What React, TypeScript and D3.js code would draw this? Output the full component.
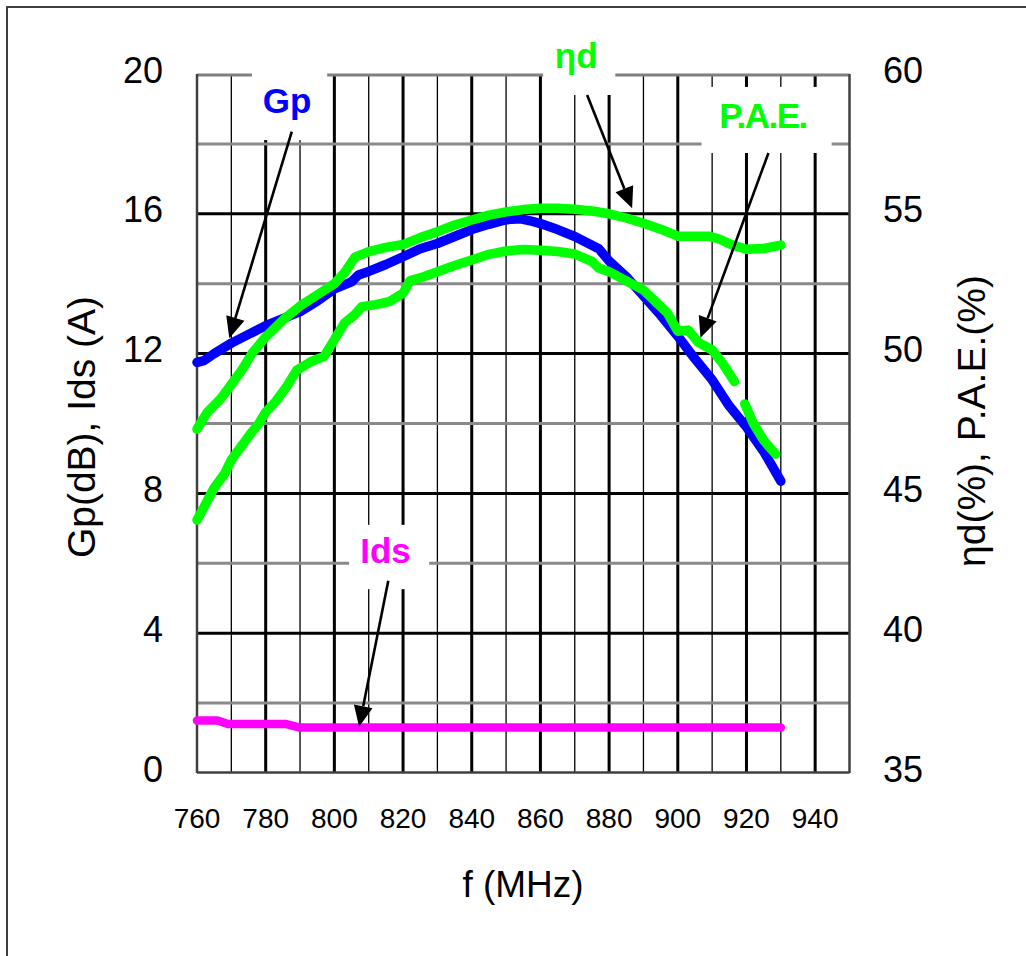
import React from "react";
import * as d3 from "d3";

// ---- data ----
const xTicks = [760, 780, 800, 820, 840, 860, 880, 900, 920, 940];
const yLeftTicks = [0, 4, 8, 12, 16, 20];
const yRightTicks = [35, 40, 45, 50, 55, 60];

const gpFreq = [760, 762, 765, 770, 775, 780, 785, 790, 795, 800, 805, 807, 810, 815, 820, 825, 830, 835, 840, 845, 850, 854, 857, 860, 865, 870, 875, 877, 880, 885, 890, 895, 900, 905, 910, 915, 920, 925, 930];
const gpVals = [11.75, 11.8, 12.0, 12.3, 12.55, 12.8, 13.0, 13.2, 13.5, 13.85, 14.05, 14.25, 14.35, 14.55, 14.77, 15.0, 15.15, 15.35, 15.55, 15.7, 15.83, 15.86, 15.8, 15.72, 15.55, 15.35, 15.1, 15.0, 14.65, 14.2, 13.65, 13.1, 12.5, 11.85, 11.25, 10.5, 9.9, 9.2, 8.35];

const etaFreq = [760, 763, 767, 770, 773, 776, 780, 785, 790, 795, 800, 803, 806, 810, 815, 820, 825, 830, 835, 840, 845, 850, 855, 860, 865, 870, 875, 880, 885, 890, 895, 900, 905, 909, 912, 916, 920, 925, 930];
const etaVals = [47.3, 47.9, 48.4, 48.9, 49.4, 50.0, 50.6, 51.2, 51.7, 52.1, 52.5, 52.9, 53.45, 53.65, 53.8, 53.9, 54.15, 54.36, 54.6, 54.78, 54.95, 55.07, 55.15, 55.2, 55.2, 55.16, 55.1, 55.0, 54.85, 54.66, 54.45, 54.2, 54.2, 54.2, 54.1, 53.88, 53.73, 53.76, 53.88];

const paeFreq = [760, 762, 765, 768, 770, 773, 776, 778, 780, 783, 786, 789, 793, 797, 800, 803, 806, 808, 812, 816, 820, 822, 826, 830, 835, 840, 845, 850, 855, 860, 865, 870, 875, 877, 880, 885, 890, 894, 897, 900, 903, 906, 910, 913, 916.5, 918, 919.5, 922, 925, 928.5];
const paeVals = [44.05, 44.5, 45.2, 45.7, 46.2, 46.7, 47.2, 47.5, 47.9, 48.3, 48.8, 49.4, 49.7, 49.9, 50.5, 51.1, 51.4, 51.68, 51.75, 51.86, 52.16, 52.6, 52.75, 52.93, 53.15, 53.35, 53.55, 53.67, 53.72, 53.7, 53.65, 53.56, 53.3, 53.06, 52.93, 52.6, 52.27, 51.8, 51.45, 50.8, 50.84, 50.4, 50.13, 49.66, 49.0, NaN, 48.2, 47.5, 46.9, 46.4];

const idsFreq = [760, 766, 769, 786, 790, 930];
const idsVals = [1.5, 1.5, 1.4, 1.4, 1.3, 1.3];

// annotations in data units (freq, left-axis value)
const labelNames = ["Gp", "ηd", "P.A.E.", "Ids"];
const labelColors = ["#0000ff", "#00ff00", "#00ff00", "#ff00ff"];
const labelTextPos = [[786.2, 18.88], [870.4, 20.16], [924.8, 18.45], [814.9, 6.02]];
const labelBoxes = [[776.0, 797.9, 20.4, 18.11], [860.8, 881.8, 21.26, 19.4], [906.9, 944.8, 19.63, 17.74], [804.3, 827.6, 7.1, 5.26]];
const arrowFrom = [[787.6, 18.35], [873.6, 19.4], [926.4, 17.74], [815.7, 5.5]];
const arrowTo = [[769.4, 12.44], [886.7, 16.16], [906.6, 12.45], [807.2, 1.32]];

const FONT = "'Liberation Sans', Arial, Helvetica, sans-serif";

export default function App() {
  const x = d3.scaleLinear().domain([760, 950]).range([197, 849.5]);
  const yL = d3.scaleLinear().domain([0, 20]).range([773, 74]);
  const yR = d3.scaleLinear().domain([35, 60]).range([773, 74]);

  type P = [number, number];
  const mk = (fs: number[], vs: number[]): P[] => fs.map((f, i) => [f, vs[i]]);

  const lineL = d3.line<P>().defined((d) => !isNaN(d[1])).x((d) => x(d[0])).y((d) => yL(d[1]));
  const lineR = d3.line<P>().defined((d) => !isNaN(d[1])).x((d) => x(d[0])).y((d) => yR(d[1]));

  const vGrid = d3.range(770, 950, 10);
  const hGrid = d3.range(2, 20, 2);

  const arrow = (i: number) => {
    const x1 = x(arrowFrom[i][0]), y1 = yL(arrowFrom[i][1]);
    const x2 = x(arrowTo[i][0]), y2 = yL(arrowTo[i][1]);
    const ang = Math.atan2(y2 - y1, x2 - x1);
    const len = 21, half = 9.5;
    const bx = x2 - len * Math.cos(ang), by = y2 - len * Math.sin(ang);
    const px = -Math.sin(ang), py = Math.cos(ang);
    const pts = `${x2},${y2} ${bx + half * px},${by + half * py} ${bx - half * px},${by - half * py}`;
    return (
      <g key={"a" + i}>
        <line x1={x1} y1={y1} x2={bx} y2={by} stroke="#000" strokeWidth={2.6} />
        <polygon points={pts} fill="#000" />
      </g>
    );
  };

  return (
    <svg width={1026} height={956} style={{ position: "absolute", left: 0, top: 0, background: "#fff" }} fontFamily={FONT}>
      <rect x={0} y={0} width={1026} height={956} fill="#fff" />
      <rect x={7} y={7} width={1040} height={980} fill="none" stroke="#404040" strokeWidth={2} />

      {/* grid */}
      {vGrid.map((f) => (
        <line key={"v" + f} x1={x(f)} x2={x(f)} y1={74} y2={773}
          stroke="#000" strokeWidth={f % 20 === 0 ? 3 : 1.3} />
      ))}
      {hGrid.map((v) => (
        <line key={"h" + v} x1={197} x2={849.5} y1={yL(v)} y2={yL(v)}
          stroke={v % 4 === 0 ? "#000" : "#8a8a8a"} strokeWidth={3} />
      ))}
      {/* plot border */}
      <line x1={197} x2={849.5} y1={75} y2={75} stroke="#808080" strokeWidth={3} />
      <line x1={197} x2={849.5} y1={772.5} y2={772.5} stroke="#404040" strokeWidth={2.5} />
      <line x1={197} x2={197} y1={74} y2={773} stroke="#404040" strokeWidth={2.5} />
      <line x1={849.5} x2={849.5} y1={74} y2={773} stroke="#404040" strokeWidth={2.5} />

      {/* label boxes */}
      {labelBoxes.map((b, i) => (
        <rect key={"b" + i} x={x(b[0])} y={yL(b[2])} width={x(b[1]) - x(b[0])} height={yL(b[3]) - yL(b[2])} fill="#fff" />
      ))}

      {/* series */}
      <path d={lineL(mk(idsFreq, idsVals)) || ""} fill="none" stroke="#ff00ff" strokeWidth={8.5} strokeLinecap="round" strokeLinejoin="round" />
      <path d={lineL(mk(gpFreq, gpVals)) || ""} fill="none" stroke="#0000ff" strokeWidth={9.5} strokeLinecap="round" strokeLinejoin="round" />
      <path d={lineR(mk(paeFreq, paeVals)) || ""} fill="none" stroke="#00ff00" strokeWidth={9.5} strokeLinecap="round" strokeLinejoin="round" />
      <path d={lineR(mk(etaFreq, etaVals)) || ""} fill="none" stroke="#00ff00" strokeWidth={9.5} strokeLinecap="round" strokeLinejoin="round" />

      {/* labels & arrows */}
      {labelNames.map((n, i) => (
        <text key={"t" + i} x={x(labelTextPos[i][0])} y={yL(labelTextPos[i][1])} textAnchor="middle"
          fontSize={35} fontWeight="bold" fill={labelColors[i]} letterSpacing={i === 2 ? -1.5 : 0}>{n}</text>
      ))}
      {labelNames.map((_, i) => arrow(i))}

      {/* tick labels */}
      {yLeftTicks.map((t) => (
        <text key={"yl" + t} x={163} y={yL(t) + 8.5} textAnchor="end" fontSize={36} fill="#000">{t}</text>
      ))}
      {yRightTicks.map((t) => (
        <text key={"yr" + t} x={883} y={yR(t) + 8.5} textAnchor="start" fontSize={36} fill="#000">{t}</text>
      ))}
      {xTicks.map((t) => (
        <text key={"x" + t} x={x(t)} y={828} textAnchor="middle" fontSize={28} fill="#000">{t}</text>
      ))}

      {/* axis titles */}
      <text x={523} y={897} textAnchor="middle" fontSize={37} fill="#000">f (MHz)</text>
      <text transform={`translate(95,427) rotate(-90)`} textAnchor="middle" fontSize={39} fill="#000">Gp(dB), Ids (A)</text>
      <text transform={`translate(985,421) rotate(-90)`} textAnchor="middle" fontSize={39} fill="#000">ηd(%), P.A.E.(%)</text>
    </svg>
  );
}
